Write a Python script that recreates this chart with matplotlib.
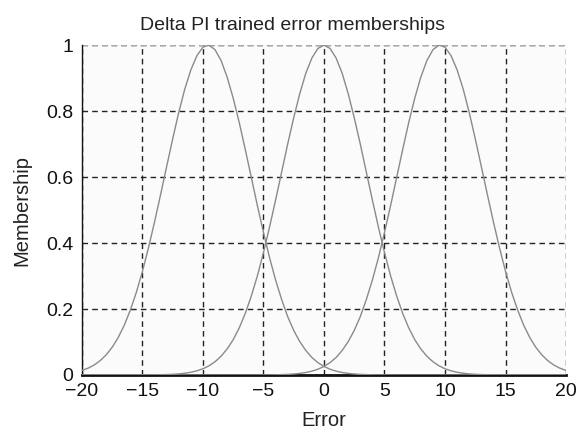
import matplotlib.pyplot as plt

error_x = [i * 0.5 for i in range(-40, 41)]

mf_negative = [0.0137, 0.0205, 0.0300, 0.0432, 0.0608, 0.0841, 0.1138, 0.151, 0.197, 0.251,
               0.314, 0.386, 0.464, 0.547, 0.632, 0.716, 0.796, 0.867, 0.925, 0.968,
               0.994, 1.000, 0.986, 0.953, 0.903, 0.839, 0.765, 0.683, 0.598, 0.513,
               0.432, 0.356, 0.288, 0.229, 0.177, 0.135, 0.101, 0.0741, 0.0531, 0.0374,
               0.0258, 0.0175, 0.0116, 0.0075, 0.0048, 0.0030, 0.0018, 0.0011, 0.0006, 0.0004,
               0.0002, 0.0001, 0, 0, 0, 0, 0, 0, 0, 0,
               0, 0, 0, 0, 0, 0, 0, 0, 0, 0,
               0, 0, 0, 0, 0, 0, 0, 0, 0, 0, 0]

mf_zero = [0, 0, 0, 0, 0, 0, 0, 0, 0, 0,
           0.0001, 0.0002, 0.0004, 0.0007, 0.0012, 0.0020, 0.0033, 0.0053, 0.0082, 0.0126,
           0.0189, 0.0278, 0.0402, 0.0569, 0.0789, 0.107, 0.143, 0.187, 0.240, 0.301,
           0.371, 0.448, 0.530, 0.615, 0.700, 0.780, 0.853, 0.915, 0.961, 0.990,
           1.0,
           0.990, 0.961, 0.915, 0.853, 0.780, 0.700, 0.615, 0.530, 0.448, 0.371,
           0.301, 0.240, 0.187, 0.143, 0.107, 0.0789, 0.0569, 0.0402, 0.0278, 0.0189,
           0.0126, 0.0082, 0.0053, 0.0033, 0.0020, 0.0012, 0.0007, 0.0004, 0.0002, 0.0001,
           0, 0, 0, 0, 0, 0, 0, 0, 0, 0]

mf_positive = mf_negative[::-1]

x_ticks = [-20, -15, -10, -5, 0, 5, 10, 15, 20]
y_ticks = [0, 0.2, 0.4, 0.6, 0.8, 1]
y_ticklabels = ['0', '0.2', '0.4', '0.6', '0.8', '1']

plt.rcParams['font.family'] = ['Liberation Sans', 'DejaVu Sans']

fig = plt.figure(figsize=(5.77, 4.34), dpi=100)
ax = fig.add_axes([0.142, 0.136, 0.839, 0.760])
ax.set_facecolor('#fbfbfb')

for mf in (mf_negative, mf_zero, mf_positive):
    ax.plot(error_x, mf, color='#8a8a8a', lw=1.0, zorder=3)

ax.set_xlim(-20, 20)
ax.set_ylim(0, 1)
ax.set_xticks(x_ticks)
ax.set_yticks(y_ticks)
ax.set_yticklabels(y_ticklabels)
ax.tick_params(length=0, labelsize=14, pad=6, colors='#111111')

ax.grid(True, color='#222222', linestyle=(0, (4, 3)), lw=1.0, zorder=1)
# top edge is only a faint dashed grid line in the reference
ax.axhline(1, color='#aaaaaa', linestyle=(0, (4, 3)), lw=1.0, zorder=2)

ax.spines['top'].set_visible(False)
ax.spines['right'].set_visible(False)
ax.spines['left'].set_color('#111111')
ax.spines['left'].set_linewidth(1.0)
ax.spines['bottom'].set_color('#111111')
ax.spines['bottom'].set_linewidth(2.0)

# title sits a bit left of the axes centre in the reference
title = ax.set_title('Delta PI trained error memberships', fontsize=14, color='#222222', pad=11)
title.set_x(0.434)
ax.set_xlabel('Error', fontsize=14.5, color='#222222', labelpad=8)
ax.set_ylabel('Membership', fontsize=14.5, color='#222222', labelpad=11)

fig.savefig('out.png', dpi=100)
